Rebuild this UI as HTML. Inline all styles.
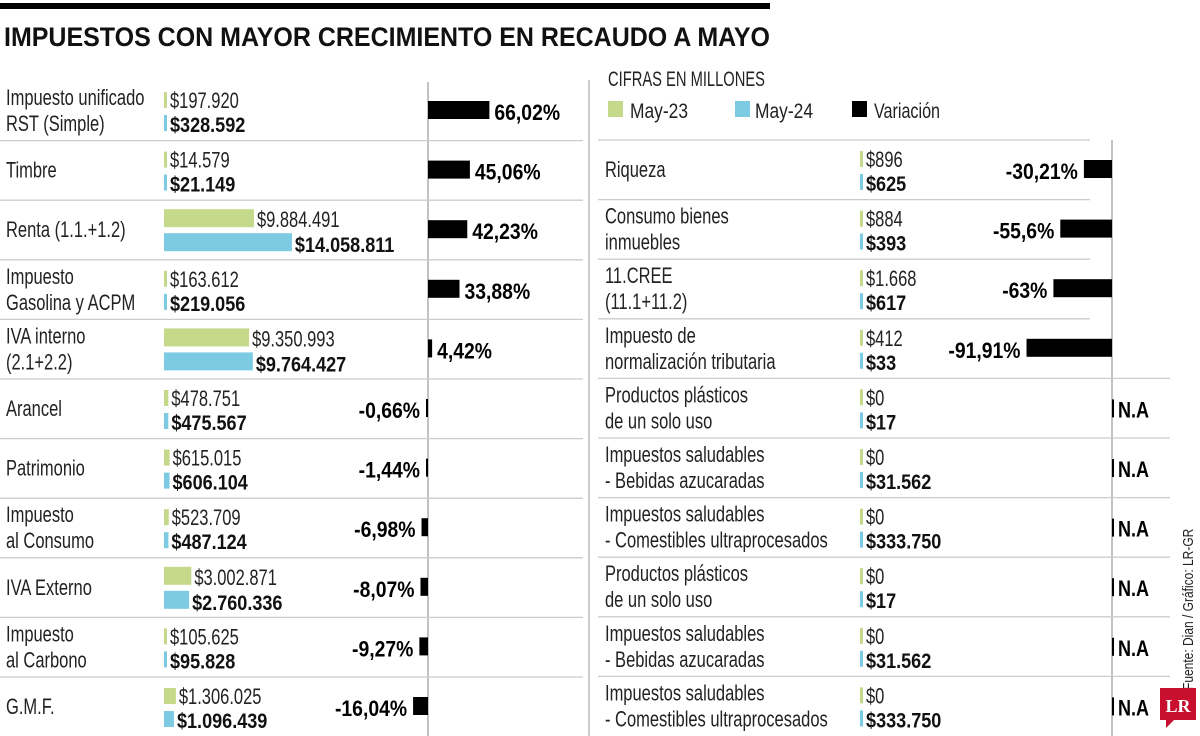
<!DOCTYPE html>
<html><head><meta charset="utf-8">
<style>
html,body{margin:0;padding:0;background:#fff}
svg{display:block;font-family:"Liberation Sans Narrow","Liberation Sans",sans-serif}
</style></head>
<body>
<svg id="chart" width="1200" height="736" viewBox="0 0 1200 736">
<rect x="0" y="3" width="770" height="6" fill="#000"/>
<text x="4" y="46" font-size="27" font-weight="bold" fill="#111" textLength="766" lengthAdjust="spacingAndGlyphs">IMPUESTOS CON MAYOR CRECIMIENTO EN RECAUDO A MAYO</text>
<text x="608" y="86" font-size="21" fill="#222" textLength="157" lengthAdjust="spacingAndGlyphs">CIFRAS EN MILLONES</text>
<g>
<rect x="608" y="101" width="15" height="16" fill="#c5d98a"/>
<text x="630" y="118" font-size="21" fill="#222" textLength="58" lengthAdjust="spacingAndGlyphs">May-23</text>
<rect x="735" y="101" width="15" height="16" fill="#7dcbe3"/>
<text x="755" y="118" font-size="21" fill="#222" textLength="58" lengthAdjust="spacingAndGlyphs">May-24</text>
<rect x="852" y="101" width="15" height="16" fill="#000"/>
<text x="874" y="118" font-size="21" fill="#222" textLength="66" lengthAdjust="spacingAndGlyphs">Variación</text>
</g>
<line x1="589" y1="80" x2="589" y2="736" stroke="#999" stroke-width="1"/>
<line x1="428" y1="82" x2="428" y2="736" stroke="#999" stroke-width="1.2"/>
<line x1="1112" y1="140" x2="1112" y2="736" stroke="#999" stroke-width="1.2"/>
<g id="left"></g>
<g id="right"></g>
<text transform="translate(1193,690) rotate(-90) scale(0.8,1)" font-size="15" fill="#222">Fuente: Dian / Gráfico: LR-GR</text>
<g>
<rect x="1160" y="688" width="36" height="32" fill="#c8102e"/>
<polygon points="1166,720 1174,720 1166,728" fill="#c8102e"/>
<text x="1178" y="712" font-size="18" font-weight="bold" fill="#fff" text-anchor="middle" font-family="Liberation Serif,serif">LR</text>
</g>
</svg>
<script>
const leftLabels=[["Impuesto unificado","RST (Simple)"],["Timbre"],["Renta (1.1.+1.2)"],["Impuesto","Gasolina y ACPM"],["IVA interno","(2.1+2.2)"],["Arancel"],["Patrimonio"],["Impuesto","al Consumo"],[" IVA Externo"],["Impuesto","al Carbono"],["G.M.F."]];
const leftMay23=[197920,14579,9884491,163612,9350993,478751,615015,523709,3002871,105625,1306025];
const leftMay24=[328592,21149,14058811,219056,9764427,475567,606104,487124,2760336,95828,1096439];
const leftVar=[66.02,45.06,42.23,33.88,4.42,-0.66,-1.44,-6.98,-8.07,-9.27,-16.04];
const rightLabels=[["Riqueza"],["Consumo bienes","inmuebles"],["11.CREE","(11.1+11.2)"],["Impuesto de","normalización tributaria"],["Productos plásticos","de un solo uso"],["Impuestos saludables","- Bebidas azucaradas"],["Impuestos saludables","- Comestibles ultraprocesados"],["Productos plásticos","de un solo uso"],["Impuestos saludables","- Bebidas azucaradas"],["Impuestos saludables","- Comestibles ultraprocesados"]];
const rightMay23=[896,884,1668,412,0,0,0,0,0,0];
const rightMay24=[625,393,617,33,17,31562,333750,17,31562,333750];
const rightVar=[-30.21,-55.6,-63,-91.91,null,null,null,null,null,null];

const NS="http://www.w3.org/2000/svg";
function mk(tag,attrs,parent,txt){const e=document.createElementNS(NS,tag);for(const k in attrs)e.setAttribute(k,attrs[k]);if(txt!=null)e.textContent=txt;parent.appendChild(e);return e;}
function squeeze(el,x0,s){el.setAttribute('transform','matrix('+s+',0,0,1,'+(x0*(1-s))+',0)');return el;}
function fmt(v){return "$"+String(v).replace(/\B(?=(\d{3})+(?!\d))/g,".");}
function fmtPct(v){return String(v).replace(".",",")+"%";}
const valScale=v=>Math.max(3,v*9.1e-6);
const varScale=v=>v*0.93;
const rowY=i=>81+i*59.6;

function panel(g,labels,m23,m24,vars,o){
  labels.forEach((lab,i)=>{
    const y0=o.top(i),cy=y0+29;
    if(i>0||o.firstLine){const l=mk('line',{x1:o.lx1,y1:y0,x2:o.lx2(i),y2:y0,stroke:'#ccc','stroke-width':1.3},g);
      
      }
    const t=mk('text',{x:o.labelX,y:lab.length>1?cy-5:cy+8,'font-size':22,fill:'#222'},g);
    
    
    lab.forEach((s,k)=>{mk('tspan',{x:o.labelX,dy:k?26:0},t,s);});
    squeeze(t,o.labelX,0.75);
    const big=valScale(m24[i])>20;
    const gy=big?y0+9:y0+11, by=big?y0+33:y0+34, h=big?18:16;
    const w1=valScale(m23[i]),w2=valScale(m24[i]);
    const b1=mk('rect',{x:o.barX,y:gy,width:w1,height:h,fill:'#c5d98a'},g);
    
    
    const b2=mk('rect',{x:o.barX,y:by,width:w2,height:h,fill:'#7dcbe3'},g);
    
    
    const x1=o.barX+w1+3,x2=o.barX+w2+3;
    const t1=mk('text',{x:x1,y:gy+h,'font-size':22,fill:'#222'},g,fmt(m23[i]));
    squeeze(t1,x1,0.75);
    
    
    const t2=mk('text',{x:x2,y:by+h+1,'font-size':21,'font-weight':'bold',fill:'#111'},g,fmt(m24[i]));
    squeeze(t2,x2,0.86);
    
    
    const v=vars[i];
    if(v===null){
      const r=mk('rect',{x:o.axis,y:cy-8,width:2,height:18,fill:'#000'},g);
      
      
      const nt=mk('text',{x:o.axis+6,y:cy+10,'font-size':22,'font-weight':'bold',fill:'#000'},g,'N.A');
      squeeze(nt,o.axis+6,0.82);
      
      
    } else {
      const w=Math.max(2,Math.abs(varScale(v)));
      const x=v>=0?o.axis:o.axis-w;
      const r=mk('rect',{x:x,y:cy-9,width:w,height:18,fill:'#000'},g);
      
      
      const tx=v>=0?o.axis+w+5:x-6;
      const vt=mk('text',{x:tx,y:cy+10,'font-size':22,'font-weight':'bold',fill:'#000','text-anchor':v>=0?'start':'end'},g,fmtPct(v));
      squeeze(vt,tx,0.88);
      
      
    }
  });
}
panel(document.getElementById('left'),leftLabels,leftMay23,leftMay24,leftVar,{top:rowY,lx1:0,lx2:()=>583,labelX:6,barX:164,axis:428,firstLine:false});
panel(document.getElementById('right'),rightLabels,rightMay23,rightMay24,rightVar,{top:i=>140+i*59.6,lx1:598,lx2:i=>i<4?1090:1170,labelX:605,barX:860,axis:1112,firstLine:true});
</script>
</body></html>
